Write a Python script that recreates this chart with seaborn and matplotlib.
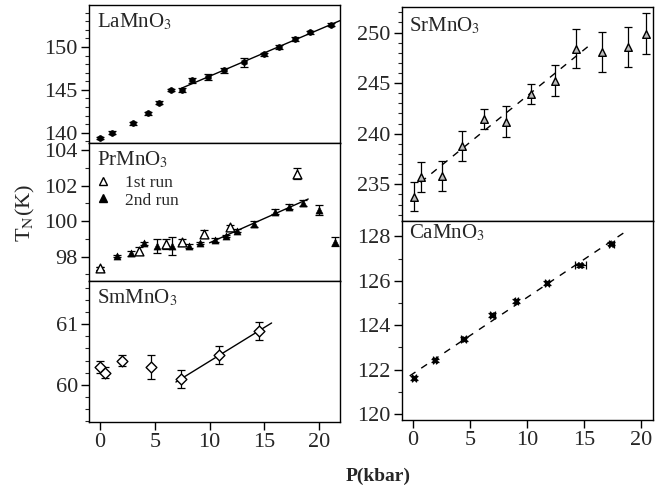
import numpy as np
import pandas as pd
import matplotlib
matplotlib.use("Agg")
import matplotlib.pyplot as plt
from matplotlib.ticker import MultipleLocator
from matplotlib.lines import Line2D
import seaborn as sns

# ---------------- data ----------------
la_p = [0.0, 1.07, 2.98, 4.4, 5.35, 6.45, 7.5, 8.4, 9.9, 11.35, 13.1, 15.0, 16.3, 17.8, 19.2, 21.1]
la_t = [139.4, 140.0, 141.1, 142.25, 143.5, 145.0, 145.0, 146.1, 146.5, 147.3, 148.2, 149.15, 150.0, 150.95, 151.7, 152.6]
la_e = [0.15, 0.15, 0.15, 0.15, 0.15, 0.15, 0.2, 0.25, 0.35, 0.3, 0.55, 0.2, 0.2, 0.2, 0.15, 0.15]

pr2_p = [0.0, 1.52, 2.83, 4.0, 5.2, 6.6, 8.15, 9.1, 10.5, 11.5, 12.5, 14.05, 15.97, 17.27, 18.5, 20.0, 21.4]
pr2_t = [97.35, 98.04, 98.19, 98.75, 98.6, 98.6, 98.6, 98.75, 98.94, 99.16, 99.46, 99.84, 100.53, 100.81, 101.03, 100.62, 98.84]
pr2_e = [0.08, 0.06, 0.15, 0.08, 0.42, 0.5, 0.12, 0.06, 0.12, 0.08, 0.08, 0.15, 0.15, 0.15, 0.15, 0.28, 0.26]

pr1_p = [0.0, 3.6, 6.0, 7.45, 9.5, 11.85, 17.95]
pr1_t = [97.35, 98.34, 98.71, 98.84, 99.3, 99.65, 102.68]
pr1_e = [0.08, 0.18, 0.26, 0.15, 0.2, 0.15, 0.3]

sm_p = [0.0, 0.46, 1.98, 4.7, 7.4, 10.9, 14.5]
sm_t = [60.30, 60.20, 60.40, 60.30, 60.10, 60.49, 60.89]
sm_e = [0.1, 0.09, 0.09, 0.2, 0.15, 0.15, 0.15]

sr_p = [0.06, 0.65, 2.54, 4.3, 6.2, 8.1, 10.3, 12.4, 14.3, 16.55, 18.8, 20.4]
sr_t = [233.77, 235.75, 235.8, 238.8, 241.45, 241.2, 243.9, 245.25, 248.4, 248.05, 248.6, 249.9]
sr_e = [1.45, 1.47, 1.5, 1.5, 1.0, 1.5, 1.0, 1.5, 1.95, 1.96, 2.0, 2.0]

ca_p = [0.06, 1.9, 4.44, 6.95, 9.05, 11.73, 14.66, 17.37]
ca_t = [121.63, 122.42, 123.39, 124.47, 125.1, 125.9, 126.7, 127.67]
ca_e = [0.08, 0.08, 0.08, 0.1, 0.08, 0.08, 0.06, 0.06]
ca_xe = [0.15, 0.15, 0.2, 0.2, 0.15, 0.2, 0.5, 0.2]

# ---------------- style ----------------
sns.set_style("ticks")
plt.rcParams['font.family'] = ['Liberation Serif', 'DejaVu Serif']
plt.rcParams['mathtext.fontset'] = 'stix'
plt.rcParams['axes.linewidth'] = 1.0
plt.rcParams['xtick.major.width'] = 1.0
plt.rcParams['ytick.major.width'] = 1.0
plt.rcParams['xtick.minor.width'] = 0.8
plt.rcParams['ytick.minor.width'] = 0.8
plt.rcParams['xtick.direction'] = 'out'
plt.rcParams['ytick.direction'] = 'out'

W, H = 672, 491
fig = plt.figure(figsize=(W / 100, H / 100), dpi=100)


def ax_px(x0, y0, x1, y1):
    return fig.add_axes([x0 / W, 1 - y1 / H, (x1 - x0) / W, (y1 - y0) / H])


TICKFS = 16
LBLFS = 15

ax_la = ax_px(89, 5, 340, 143)
ax_pr = ax_px(89, 143, 340, 281)
ax_sm = ax_px(89, 281, 340, 422)
ax_sr = ax_px(401.7, 7.3, 652.7, 220.7)
ax_ca = ax_px(401.7, 220.7, 652.7, 420)

for ax in [ax_la, ax_pr, ax_sm, ax_sr, ax_ca]:
    for s in ax.spines.values():
        s.set_visible(True)
        s.set_color('black')
    ax.tick_params(axis='both', labelsize=TICKFS, length=6, color='black', pad=2)
    ax.tick_params(which='minor', length=3)
    ax.set_xlabel('')
    ax.set_ylabel('')


def fitline(ax, p, t, sel, x0, x1, ls):
    pp = np.array(p)[sel]
    tt = np.array(t)[sel]
    k, b = np.polyfit(pp, tt, 1)
    xs = np.array([x0, x1])
    sns.lineplot(x=xs, y=k * xs + b, ax=ax, color='black', lw=1.0, linestyle=ls, legend=False)


def err(ax, p, t, e, xe=None):
    ax.errorbar(p, t, yerr=e, xerr=xe, fmt='none', ecolor='black', elinewidth=0.9, capsize=3, capthick=0.9, zorder=2)


# ---- LaMnO3 ----
err(ax_la, la_p, la_t, la_e)
sns.scatterplot(x=la_p, y=la_t, ax=ax_la, marker='h', s=22, color='black', edgecolor='black', zorder=3, legend=False)
fitline(ax_la, la_p, la_t, slice(6, None), 7.5, 21.9, '-')
ax_la.set_xlim(-1, 21.9)
ax_la.set_ylim(138.8, 154.9)
ax_la.set_yticks([140, 145, 150])
ax_la.yaxis.set_minor_locator(MultipleLocator(1))
ax_la.tick_params(axis='x', bottom=False, labelbottom=False)
ax_la.text(0.03, 0.95, 'LaMnO$_3$', transform=ax_la.transAxes, fontsize=LBLFS, va='top', ha='left')

# ---- PrMnO3 ----
err(ax_pr, pr2_p, pr2_t, pr2_e)
err(ax_pr, pr1_p, pr1_t, pr1_e)
sns.scatterplot(x=pr2_p, y=pr2_t, ax=ax_pr, marker='^', s=26, color='black', edgecolor='black', zorder=3, legend=False)
sns.scatterplot(x=pr1_p, y=pr1_t, ax=ax_pr, marker='^', s=40, facecolor='white', edgecolor='black', linewidth=1.0, zorder=4, legend=False)
fitline(ax_pr, pr2_p, pr2_t, slice(8, 15), 10.0, 19.0, '-')
ax_pr.set_xlim(-1, 21.9)
ax_pr.set_ylim(96.63, 104.4)
ax_pr.set_yticks([98, 100, 102, 104])
ax_pr.yaxis.set_minor_locator(MultipleLocator(1))
ax_pr.tick_params(axis='x', bottom=False, labelbottom=False)
ax_pr.text(0.03, 0.95, 'PrMnO$_3$', transform=ax_pr.transAxes, fontsize=LBLFS, va='top', ha='left')
h1 = Line2D([], [], marker='^', ls='none', mfc='white', mec='black', ms=6)
h2 = Line2D([], [], marker='^', ls='none', mfc='black', mec='black', ms=6)
ax_pr.legend([h1, h2], ['1st run', '2nd run'], loc='upper left', bbox_to_anchor=(-0.035, 0.86),
             frameon=False, fontsize=12.5, handlelength=1.2, handletextpad=0.7, labelspacing=0.1, borderaxespad=0.3)

# ---- SmMnO3 ----
err(ax_sm, sm_p, sm_t, sm_e)
sns.scatterplot(x=sm_p, y=sm_t, ax=ax_sm, marker='D', s=30, facecolor='white', edgecolor='black', linewidth=1.0, zorder=3, legend=False)
fitline(ax_sm, sm_p, sm_t, slice(4, None), 6.93, 15.66, '-')
ax_sm.set_xlim(-1, 21.9)
ax_sm.set_ylim(59.39, 61.71)
ax_sm.set_yticks([60, 61])
ax_sm.yaxis.set_minor_locator(MultipleLocator(0.2))
ax_sm.set_xticks([0, 5, 10, 15, 20])
ax_sm.text(0.03, 0.95, 'SmMnO$_3$', transform=ax_sm.transAxes, fontsize=LBLFS, va='top', ha='left')

# ---- SrMnO3 ----
err(ax_sr, sr_p, sr_t, sr_e)
sns.scatterplot(x=sr_p, y=sr_t, ax=ax_sr, marker='^', s=30, facecolor='#bbbbbb', edgecolor='black', linewidth=1.0, zorder=3, legend=False)
fitline(ax_sr, sr_p, sr_t, slice(1, 9), 0.65, 15.3, (0, (5, 5)))
ax_sr.set_xlim(-1, 21)
ax_sr.set_ylim(231.4, 252.5)
ax_sr.set_yticks([235, 240, 245, 250])
ax_sr.yaxis.set_minor_locator(MultipleLocator(1))
ax_sr.tick_params(axis='x', bottom=False, labelbottom=False)
ax_sr.text(0.03, 0.96, 'SrMnO$_3$', transform=ax_sr.transAxes, fontsize=LBLFS, va='top', ha='left')

# ---- CaMnO3 ----
err(ax_ca, ca_p, ca_t, ca_e, ca_xe)
sns.scatterplot(x=ca_p, y=ca_t, ax=ax_ca, marker='X', s=22, color='black', edgecolor='black', zorder=3, legend=False)
fitline(ax_ca, ca_p, ca_t, slice(None), -0.3, 18.5, (0, (5, 5)))
ax_ca.set_xlim(-1, 21)
ax_ca.set_ylim(119.74, 128.7)
ax_ca.set_yticks([120, 122, 124, 126, 128])
ax_ca.yaxis.set_minor_locator(MultipleLocator(1))
ax_ca.set_xticks([0, 5, 10, 15, 20])
ax_ca.text(0.03, 0.99, 'CaMnO$_3$', transform=ax_ca.transAxes, fontsize=LBLFS, va='top', ha='left')

fig.text(25 / W, 1 - 213 / H, r'T$_\mathrm{N}$(K)', rotation=90, fontsize=16, ha='center', va='center')
fig.text(378 / W, 1 - 476 / H, 'P(kbar)', fontsize=14, ha='center', va='center', fontweight='bold')

fig.savefig('out.png', dpi=100)
